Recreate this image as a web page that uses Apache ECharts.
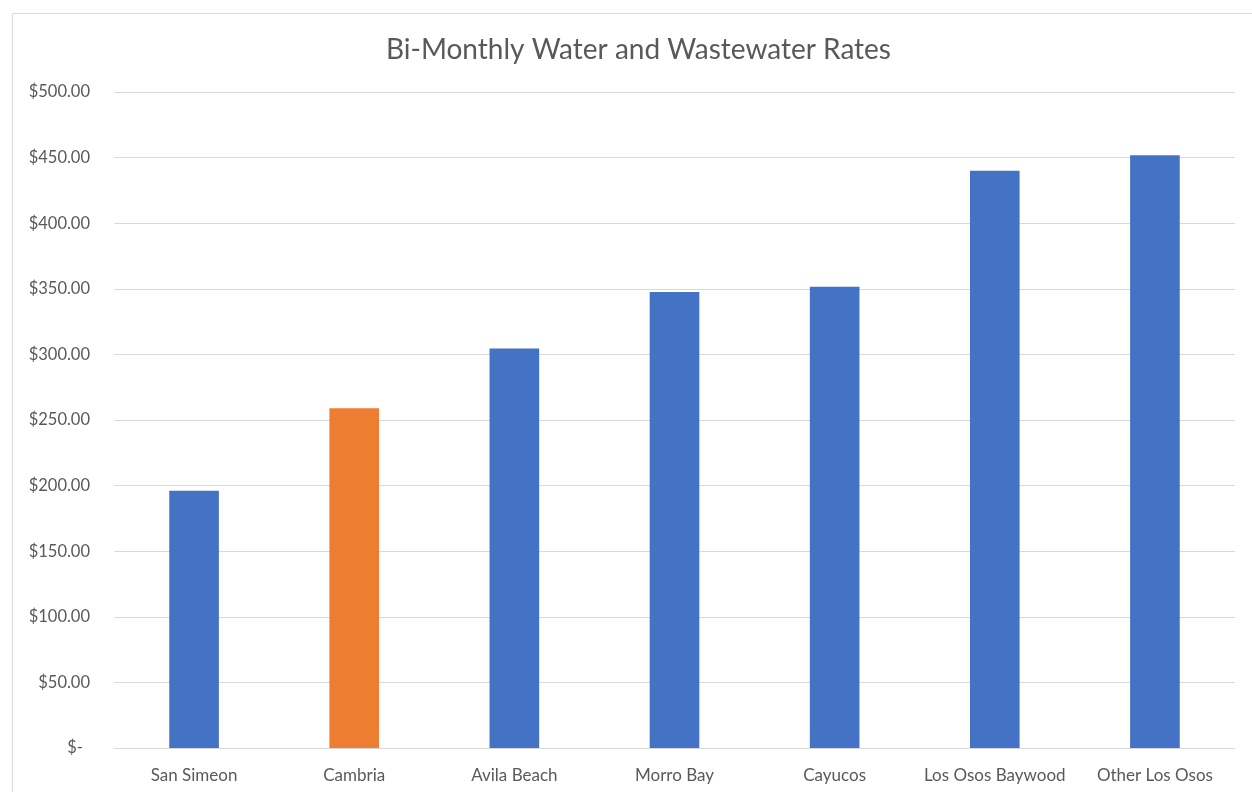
<!DOCTYPE html>
<html>
<head>
<meta charset="utf-8">
<script src="https://cdn.jsdelivr.net/npm/echarts@6/dist/echarts.min.js"></script>
<style>
html,body{margin:0;padding:0;background:#fff;}
#chart{width:1252px;height:792px;}
</style>
</head>
<body>
<div id="chart"></div>
<script>
const categories = ['San Simeon', 'Cambria', 'Avila Beach', 'Morro Bay', 'Cayucos', 'Los Osos Baywood', 'Other Los Osos'];
const rates = [196, 259, 304.5, 347.5, 351.5, 440, 451.7];
const barColors = ['#4472C4', '#ED7D31', '#4472C4', '#4472C4', '#4472C4', '#4472C4', '#4472C4'];
const titleText = 'Bi-Monthly Water and Wastewater Rates';

const FONT = 'Lato';
const chart = echarts.init(document.getElementById('chart'));
chart.setOption({
  animation: false,
  backgroundColor: '#fff',
  graphic: [{
    type: 'rect', left: 10, top: 11, silent: true,
    shape: {width: 1240, height: 790},
    style: {fill: 'none', stroke: '#d9d9d9', lineWidth: 1}
  }],
  title: {
    text: titleText, left: 381, top: 31,
    textStyle: {fontFamily: FONT, fontSize: 28, fontWeight: 'normal', color: '#595959'}
  },
  grid: {left: 114, right: 17, top: 92, bottom: 44, containLabel: false},
  xAxis: {
    type: 'category', data: categories,
    axisLine: {show: true, lineStyle: {color: '#d9d9d9', width: 1}},
    axisTick: {show: false},
    axisLabel: {interval: 0, fontFamily: FONT, fontSize: 17, color: '#595959', margin: 19}
  },
  yAxis: {
    type: 'value', min: 0, max: 500, interval: 50,
    axisLine: {show: false}, axisTick: {show: false},
    splitLine: {lineStyle: {color: '#d9d9d9', width: 1}},
    axisLabel: {
      fontFamily: FONT, fontSize: 16.5, color: '#595959', margin: 24,
      formatter: v => v === 0 ? '{z|$-}' : '$' + v.toFixed(2),
      rich: {z: {fontFamily: FONT, fontSize: 16.5, color: '#595959', padding: [0, 7, 0, 0]}}
    }
  },
  series: [{
    type: 'bar', barWidth: '31%',
    data: rates.map((v, i) => ({value: v, itemStyle: {color: barColors[i]}}))
  }]
});
</script>
</body>
</html>
